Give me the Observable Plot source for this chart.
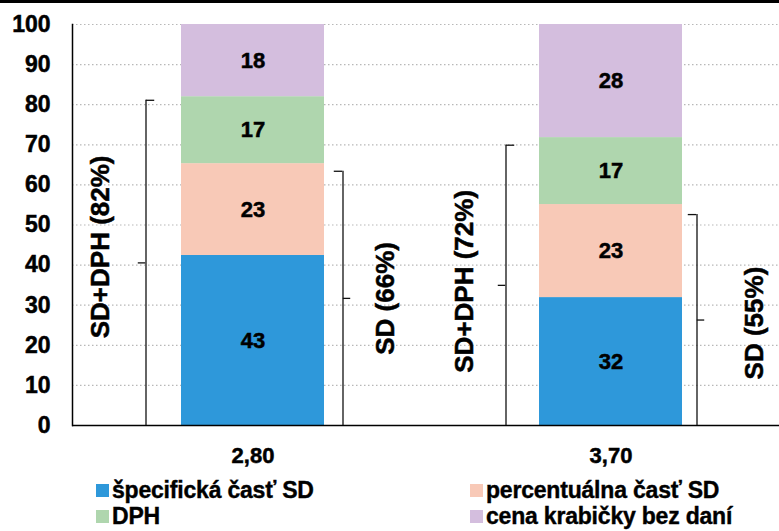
<!DOCTYPE html>
<html><head><meta charset="utf-8">
<script src="https://cdn.jsdelivr.net/npm/d3@7"></script>
<script src="https://cdn.jsdelivr.net/npm/@observablehq/plot@0.6"></script>
<style>
body{margin:0;background:#fff;font-family:"Liberation Sans",Arial,sans-serif;}
#topline{height:3px;background:#000;width:779px;}
#chart svg{display:block}
#chart svg text{stroke:#000;stroke-width:0.5px;paint-order:stroke}
#legend{position:relative;width:779px;height:53px;font-weight:bold;font-size:23px;letter-spacing:-0.2px;color:#000;-webkit-text-stroke:0.4px #000}
.item{position:absolute;display:flex;align-items:center;white-space:nowrap;line-height:23px;height:23px}
.sw{width:13px;height:13px;margin-right:3px;flex:none}
</style></head><body>
<div id="topline"></div>
<div id="chart"></div>
<div id="legend"></div>
<script>
// ---- data ----
const categories = ["2,80", "3,70"];
const components = ["špecifická časť SD", "percentuálna časť SD", "DPH", "cena krabičky bez daní"];
const colors = ["#2E98DA", "#F8C9B7", "#AFD6AE", "#D4BEDE"];
const values280 = [42.4, 22.9, 16.7, 18.0];
const values370 = [31.9, 23.2, 16.7, 28.2];
const labels280 = ["43", "23", "17", "18"];
const labels370 = ["32", "23", "17", "28"];
const yTicks = [0, 10, 20, 30, 40, 50, 60, 70, 80, 90, 100];
const bracketCats = ["2,80", "2,80", "3,70", "3,70"];
const bracketSides = ["left", "right", "left", "right"];
const bracketTops = [81.1, 63.4, 69.9, 52.6];
const bracketLabels = ["SD+DPH (82%)", "SD (66%)", "SD+DPH (72%)", "SD (55%)"];

// ---- table ----
const rows = [];
categories.forEach((c, ci) => {
  const vals = ci === 0 ? values280 : values370;
  const labs = ci === 0 ? labels280 : labels370;
  components.forEach((k, ki) => rows.push({cat: c, comp: k, value: vals[ki], label: labs[ki]}));
});
const brackets = bracketCats.map((c, i) => ({cat: c, side: bracketSides[i], top: bracketTops[i], mid: bracketTops[i] / 2, label: bracketLabels[i]}));

// ---- layout (styling, not data) ----
const W = 779, H = 475, mL = 72, mR = 0, mT = 21, mB = 53;
const xRange = [mL, W - mR];
const pIn = 0.6, pOut = 0.285, align = 0.53;
const bw = d3.scaleBand(categories, xRange).paddingInner(pIn).paddingOuter(pOut).align(align).bandwidth();
const lineOff = [-107, 90, -105, 86];      // bracket line offset from band centre
const labelOff = [-152, 133, -146, 144];    // label offset from band centre
const labelDy = [-16, 0, -4, 3];
const topLen = 9, midLen = 8;

const bracketMarks = [];
brackets.forEach((b, i) => {
  const o = lineOff[i];
  const sgn = b.side === "left" ? 1 : -1; // direction of top tick (towards bar)
  const d = [b];
  bracketMarks.push(Plot.ruleX(d, {x: "cat", y1: 0, y2: "top", dx: o, stroke: "#111", strokeWidth: 1.3}));
  const t1 = sgn > 0 ? o : o - topLen, t2 = sgn > 0 ? o + topLen : o;
  bracketMarks.push(Plot.tickY(d, {x: "cat", y: "top", insetLeft: bw / 2 + t1, insetRight: bw / 2 - t2, stroke: "#111", strokeWidth: 1.3}));
  const m1 = sgn > 0 ? o - midLen : o, m2 = sgn > 0 ? o : o + midLen;
  bracketMarks.push(Plot.tickY(d, {x: "cat", y: "mid", insetLeft: bw / 2 + m1, insetRight: bw / 2 - m2, stroke: "#111", strokeWidth: 1.3}));
  bracketMarks.push(Plot.text(d, {x: "cat", y: "mid", text: "label", dx: labelOff[i], dy: labelDy[i], rotate: -90, fontSize: 26, fontWeight: "bold", fill: "#000"}));
});

const chart = Plot.plot({
  width: W, height: H,
  marginLeft: mL, marginRight: mR, marginTop: mT, marginBottom: mB,
  style: {fontFamily: "'Liberation Sans', Arial, sans-serif", color: "#000", background: "#fff"},
  x: {type: "band", domain: categories, range: xRange, paddingInner: pIn, paddingOuter: pOut, align: align},
  y: {domain: [0, 100]},
  color: {domain: components, range: colors},
  marks: [
    Plot.gridY(yTicks, {stroke: "#b8b8b8", strokeOpacity: 1, strokeDasharray: "1.5,2.5", strokeWidth: 1.2}),
    Plot.barY(rows, {x: "cat", y: "value", fill: "comp"}),
    Plot.text(rows, Plot.stackY({x: "cat", y: "value", z: "comp", text: "label", fontSize: 22, fontWeight: "bold", fill: "#000"})),
    Plot.ruleY([0], {stroke: "#000", strokeWidth: 1.5}),
    Plot.frame({anchor: "left", stroke: "#000", strokeWidth: 1.5}),
    ...bracketMarks,
    Plot.axisY({ticks: yTicks, tickSize: 0, tickPadding: 22, fontSize: 23, fontWeight: "bold", label: null}),
    Plot.axisX({tickSize: 0, tickPadding: 22, fontSize: 22, fontWeight: "bold", label: null})
  ]
});
document.getElementById("chart").appendChild(chart);

// ---- legend ----
const legend = document.getElementById("legend");
const pos = [[96, 1], [470, 1], [96, 27], [470, 27]];
components.forEach((k, i) => {
  const it = document.createElement("div");
  it.className = "item";
  it.style.left = pos[i][0] + "px";
  it.style.top = pos[i][1] + "px";
  const sw = document.createElement("span");
  sw.className = "sw";
  sw.style.background = colors[i];
  const tx = document.createElement("span");
  tx.textContent = k;
  it.appendChild(sw); it.appendChild(tx);
  legend.appendChild(it);
});
</script>
</body></html>
